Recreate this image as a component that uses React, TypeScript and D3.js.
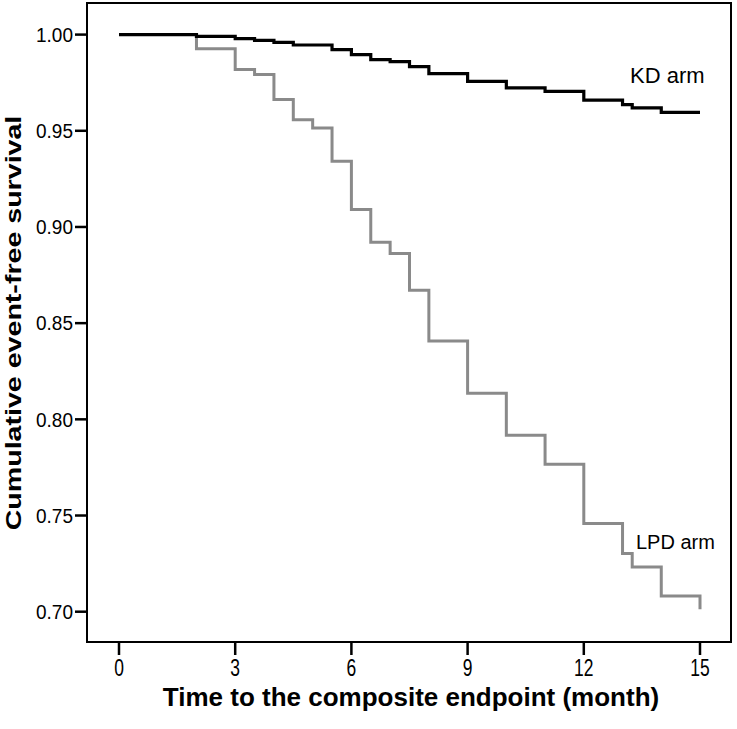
import React from "react";
import * as d3 from "d3";

const kdTimes = [0, 2.0, 3.0, 3.5, 4.0, 4.5, 5.5, 6.0, 6.5, 7.0, 7.5, 8.0, 9.0, 10.0, 11.0, 12.0, 13.0, 13.25, 14.0, 15.0];
const kdSurv = [1.0, 0.9991, 0.9979, 0.997, 0.996, 0.9946, 0.9922, 0.9896, 0.987, 0.986, 0.9834, 0.9797, 0.9757, 0.9723, 0.9705, 0.9659, 0.9636, 0.9619, 0.9596, 0.9596];

const lpdTimes = [0, 2.0, 3.0, 3.5, 4.0, 4.5, 5.0, 5.5, 6.0, 6.5, 7.0, 7.5, 8.0, 9.0, 10.0, 11.0, 12.0, 13.0, 13.25, 14.0, 15.0];
const lpdSurv = [1.0, 0.9926, 0.9818, 0.9792, 0.9662, 0.9558, 0.9515, 0.9342, 0.9091, 0.8921, 0.8862, 0.8671, 0.8407, 0.8135, 0.7917, 0.7766, 0.7459, 0.7302, 0.7232, 0.7082, 0.7013];

const xTicks = [0, 3, 6, 9, 12, 15];
const yTicks = [0.7, 0.75, 0.8, 0.85, 0.9, 0.95, 1.0];

const seriesLabels = ["KD arm", "LPD arm"];
const xTitle = "Time to the composite endpoint (month)";
const yTitle = "Cumulative event-free survival";

export default function App() {
  const W = 737, H = 729;
  const frame = { left: 87, right: 731, top: 3, bottom: 642 };
  const x = d3.scaleLinear().domain([0, 15]).range([119, 700]);
  const y = d3.scaleLinear().domain([0.7, 1.0]).range([611.7, 34.6]);

  const line = d3.line<[number, number]>()
    .x(d => x(d[0]))
    .y(d => y(d[1]))
    .curve(d3.curveStepAfter);

  const kd = kdTimes.map((t, i) => [t, kdSurv[i]] as [number, number]);
  const lpd = lpdTimes.map((t, i) => [t, lpdSurv[i]] as [number, number]);

  const font = "Arial, 'Liberation Sans', Helvetica, sans-serif";

  return (
    <div style={{ position: "absolute", left: 0, top: 0 }}>
      <svg width={W} height={H} style={{ display: "block", background: "#fff" }}>
        <rect x={0} y={0} width={W} height={H} fill="#fff" />
        {/* frame */}
        <rect x={frame.left} y={frame.top} width={frame.right - frame.left} height={frame.bottom - frame.top}
          fill="none" stroke="#000" strokeWidth={2} />
        {/* y ticks */}
        {yTicks.map(v => (
          <g key={"y" + v}>
            <line x1={frame.left - 12} x2={frame.left} y1={y(v)} y2={y(v)} stroke="#000" strokeWidth={2.5} />
            <text x={73} y={y(v)} dy="0.35em" textAnchor="end" fontFamily={font} fontSize={19} fill="#000"
              transform={`translate(0,${y(v)}) scale(1,1.08) translate(0,${-y(v)})`}>
              {v.toFixed(2)}
            </text>
          </g>
        ))}
        {/* x ticks */}
        {xTicks.map(v => (
          <g key={"x" + v}>
            <line x1={x(v)} x2={x(v)} y1={frame.bottom} y2={frame.bottom + 13} stroke="#000" strokeWidth={2.5} />
            <text x={x(v)} y={676} textAnchor="middle" fontFamily={font} fontSize={23} fill="#000"
              transform={`translate(${x(v)},0) scale(0.76,1) translate(${-x(v)},0)`}>
              {v}
            </text>
          </g>
        ))}
        {/* curves */}
        <path d={line(lpd) || ""} fill="none" stroke="#8a8a8a" strokeWidth={3} />
        <path d={line(kd) || ""} fill="none" stroke="#000" strokeWidth={3.2} />
        {/* labels */}
        <text x={630} y={83} fontFamily={font} fontSize={22} fill="#000">{seriesLabels[0]}</text>
        <text x={636} y={549} fontFamily={font} fontSize={20} fill="#000">{seriesLabels[1]}</text>
        {/* axis titles */}
        <text x={411} y={706} textAnchor="middle" fontFamily={font} fontWeight="bold" fontSize={26} fill="#000"
          transform={`translate(411,0) scale(1.0,1) translate(-411,0)`}>
          {xTitle}
        </text>
        <text transform={`translate(21,323) rotate(-90) scale(1.3,1)`} textAnchor="middle" fontFamily={font} fontWeight="bold"
          fontSize={22} fill="#000">
          {yTitle}
        </text>
      </svg>
    </div>
  );
}
